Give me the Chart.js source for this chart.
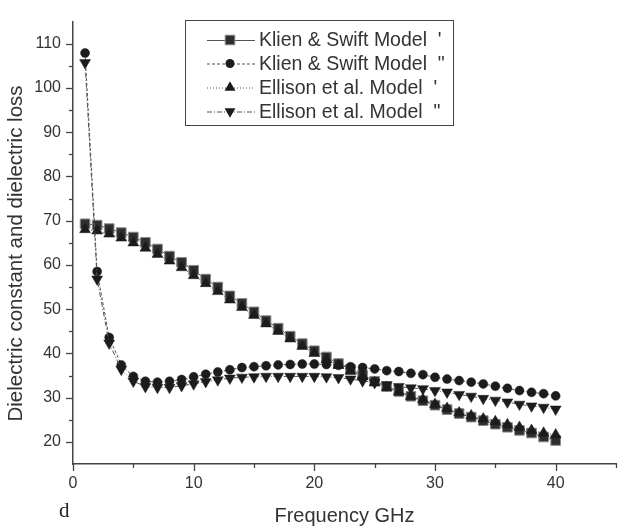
<!DOCTYPE html>
<html><head><meta charset="utf-8">
<script src="https://cdn.jsdelivr.net/npm/chart.js@4/dist/chart.umd.min.js"></script>
<style>html,body{margin:0;padding:0;background:#fff}#wrap{width:626px;height:526px}</style>
</head><body><div id="wrap"><canvas id="c" width="626" height="526"></canvas></div>
<script>
const frequencies = [1,2,3,4,5,6,7,8,9,10,11,12,13,14,15,16,17,18,19,20,21,22,23,24,25,26,27,28,29,30,31,32,33,34,35,36,37,38,39,40];
const klienReal = [69.3,69.0,68.2,67.3,66.3,65.1,63.6,62.0,60.6,58.8,56.8,55.0,53.0,51.3,49.4,47.4,45.7,43.9,42.2,40.6,39.2,37.7,36.4,35.1,33.7,32.5,31.4,30.3,29.3,28.3,27.3,26.4,25.6,24.8,24.0,23.3,22.6,22.0,21.1,20.3];
const klienLoss = [107.9,58.5,43.6,37.4,34.8,33.7,33.5,33.7,34.1,34.7,35.3,35.8,36.3,36.8,37.0,37.2,37.4,37.5,37.6,37.6,37.5,37.3,37.0,36.8,36.5,36.1,35.9,35.5,35.2,34.6,34.2,33.85,33.5,33.1,32.6,32.1,31.6,31.2,30.9,30.4];
const ellisonReal = [68.0,67.7,67.0,66.1,65.0,63.8,62.4,60.9,59.4,57.6,55.8,54.0,52.1,50.4,48.6,46.7,45.0,43.3,41.6,40.0,38.6,37.3,36.0,34.8,33.4,32.3,31.3,30.3,29.6,28.5,27.6,26.6,25.9,25.2,24.6,23.9,23.3,22.6,22.0,21.6];
const ellisonLoss = [105.7,56.8,42.3,36.4,33.7,32.5,32.3,32.3,32.7,33.1,33.6,34.0,34.4,34.6,34.7,34.8,34.8,34.8,34.8,34.8,34.7,34.5,34.2,33.8,33.4,32.9,32.5,32.2,32.0,31.6,31.25,30.7,30.3,29.8,29.4,29.0,28.5,28.1,27.8,27.4];
const seriesNames = ["Klien & Swift Model  '", 'Klien & Swift Model  "', "Ellison et al. Model  '", 'Ellison et al. Model  "'];
const xTickLabels = [0,10,20,30,40];
const yTickLabels = [20,30,40,50,60,70,80,90,100,110];
const xTitle = 'Frequency GHz';
const yTitle = 'Dielectric constant and dielectric loss';
const panelLetter = 'd';

const TXT = '#333';
const AX = '#444';
const FONT = "'Liberation Sans', Arial, sans-serif";

function pts(ys){ return frequencies.map((f,i)=>({x:f,y:ys[i]})); }

const styles = [
  {dash:[], pointStyle:'rect', radius:6.8, rot:0, fill:'#2e2e2e', edge:'#8a8a8a'},
  {dash:[3,2], pointStyle:'circle', radius:4.5, rot:0, fill:'#1c1c1c', edge:'#1c1c1c'},
  {dash:[1,2], pointStyle:'triangle', radius:6.3, rot:0, fill:'#1c1c1c', edge:'#1c1c1c'},
  {dash:[5,2,1,2], pointStyle:'triangle', radius:6.3, rot:180, fill:'#1c1c1c', edge:'#1c1c1c'}
];
const dataArrays = [klienReal, klienLoss, ellisonReal, ellisonLoss];
const orders = [4,3,2,1];

const datasets = dataArrays.map((arr,i)=>({
  label: seriesNames[i],
  data: pts(arr),
  borderColor: '#555',
  borderWidth: 1,
  borderDash: styles[i].dash,
  backgroundColor: styles[i].fill,
  pointStyle: styles[i].pointStyle,
  pointRadius: styles[i].radius,
  pointRotation: styles[i].rot,
  pointBackgroundColor: styles[i].fill,
  pointBorderColor: styles[i].edge,
  pointBorderWidth: i===0 ? 1 : 0.5,
  showLine: true,
  tension: 0,
  order: orders[i]
}));

function drawMarker(ctx, st, x, y){
  ctx.save();
  ctx.fillStyle = st.fill; ctx.strokeStyle = st.edge; ctx.lineWidth = 1;
  ctx.beginPath();
  const r = st.radius;
  if (st.pointStyle==='rect'){
    const s = r*Math.SQRT1_2;
    ctx.rect(x-s,y-s,2*s,2*s);
  } else if (st.pointStyle==='circle'){
    ctx.arc(x,y,r,0,Math.PI*2);
  } else {
    let rad = st.rot*Math.PI/180;
    ctx.moveTo(x+Math.sin(rad)*r, y-Math.cos(rad)*r);
    rad += 2*Math.PI/3; ctx.lineTo(x+Math.sin(rad)*r, y-Math.cos(rad)*r);
    rad += 2*Math.PI/3; ctx.lineTo(x+Math.sin(rad)*r, y-Math.cos(rad)*r);
    ctx.closePath();
  }
  ctx.fill(); if (st.pointStyle==='rect') ctx.stroke();
  ctx.restore();
}

const decor = {
  id:'decor',
  afterDraw(chart){
    const ctx = chart.ctx, xs = chart.scales.x, ys = chart.scales.y, ca = chart.chartArea;
    ctx.save();
    ctx.strokeStyle = AX; ctx.lineWidth = 1.3;
    ys.ticks.forEach(t=>{
      if (t.value>=115 || t.value<=15) return;
      const p = Math.round(ys.getPixelForValue(t.value))+0.5;
      const len = (t.value%10===0)?7:4;
      ctx.beginPath(); ctx.moveTo(ca.left-len,p); ctx.lineTo(ca.left,p); ctx.stroke();
    });
    xs.ticks.forEach(t=>{
      const p = Math.round(xs.getPixelForValue(t.value))+0.5;
      const len = (t.value%10===0)?7:4;
      ctx.beginPath(); ctx.moveTo(p,ca.bottom); ctx.lineTo(p,ca.bottom+len); ctx.stroke();
    });
    // y title
    ctx.save();
    ctx.translate(16, 253.5);
    ctx.rotate(-Math.PI/2);
    ctx.fillStyle = TXT; ctx.font = '20.5px '+FONT; ctx.textAlign='center'; ctx.textBaseline='middle';
    ctx.fillText(yTitle, 0, 0);
    ctx.restore();
    // legend
    const bx=185, by=20, bw=268, bh=105;
    ctx.fillStyle='#fff'; ctx.fillRect(bx,by,bw,bh);
    ctx.strokeStyle=AX; ctx.lineWidth=1; ctx.strokeRect(bx+0.5,by+0.5,bw,bh);
    const rowY=[40,63.5,87.5,111.5];
    ctx.font = '19.5px '+FONT; ctx.textBaseline='middle'; ctx.textAlign='left';
    seriesNames.forEach((name,i)=>{
      const y=rowY[i];
      ctx.save(); ctx.strokeStyle='#555'; ctx.lineWidth=1; ctx.setLineDash(styles[i].dash);
      ctx.beginPath(); ctx.moveTo(207,y+0.5); ctx.lineTo(255,y+0.5); ctx.stroke(); ctx.restore();
      drawMarker(ctx, styles[i], 230, y);
      ctx.fillStyle=TXT; ctx.fillText(name, 259, y+1);
    });
    ctx.fillStyle='#222'; ctx.font="21px 'Liberation Serif', 'Times New Roman', serif";
    ctx.textBaseline='alphabetic'; ctx.fillText(panelLetter, 59, 517);
    ctx.restore();
  }
};

new Chart(document.getElementById('c'), {
  type:'scatter',
  data:{datasets},
  plugins:[decor],
  options:{
    responsive:false, animation:false, devicePixelRatio:1,
    layout:{padding:{top:15,right:1,left:0,bottom:0}},
    plugins:{legend:{display:false}, tooltip:{enabled:false}},
    scales:{
      x:{type:'linear', min:0, max:45,
        afterFit(s){ s.height = 62; },
        ticks:{stepSize:5, padding:10, color:TXT, font:{family:FONT,size:16},
          autoSkip:false, maxRotation:0,
          callback:(v)=> xTickLabels.includes(v) ? String(v) : ''},
        grid:{display:true, drawOnChartArea:false, drawTicks:false},
        border:{display:true,color:AX,width:1.5},
        title:{display:true,text:xTitle,color:TXT,font:{family:FONT,size:20,lineHeight:1},padding:{top:0,bottom:0}}
      },
      y:{type:'linear', min:15, max:115,
        afterFit(s){ s.width = 73; },
        ticks:{stepSize:5, padding:12, color:TXT, font:{family:FONT,size:16}, autoSkip:false,
          callback:(v)=> yTickLabels.includes(v) ? String(v) : ''},
        grid:{display:true, drawOnChartArea:false, drawTicks:false},
        border:{display:true,color:AX,width:1.5},
        title:{display:false}
      }
    }
  }
});
</script></body></html>
